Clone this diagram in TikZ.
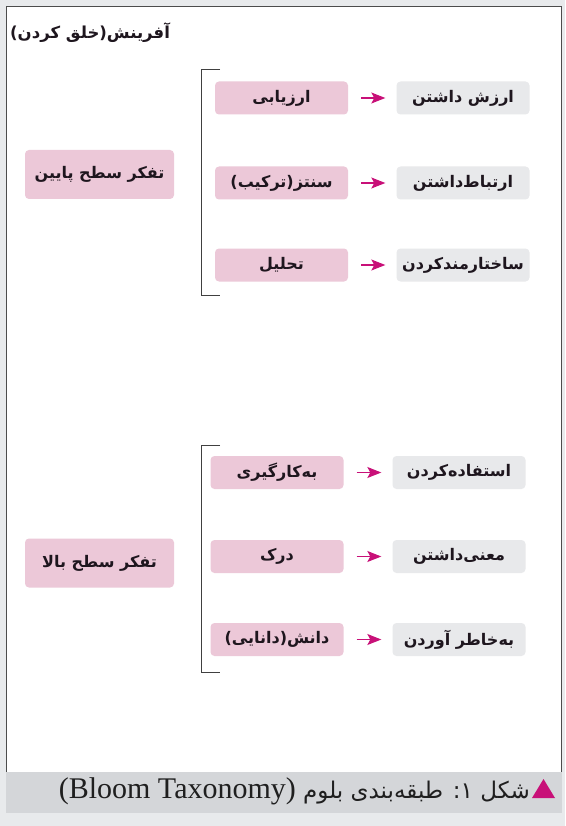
\documentclass[tikz,border=0pt]{standalone}
\usepackage{fontspec}
\usetikzlibrary{arrows.meta}
\TeXXeTstate=1
\newfontfamily\fafont[Script=Arabic]{DejaVu Sans}
\newfontfamily\enfont{Liberation Serif}
\definecolor{pinkbg}{RGB}{236,200,216}
\definecolor{greybg}{RGB}{232,233,235}
\definecolor{pagebg}{RGB}{232,234,236}
\definecolor{bandbg}{RGB}{212,214,217}
\definecolor{arrowmag}{RGB}{200,16,120}
\definecolor{textdark}{RGB}{30,22,30}
\newcommand{\fa}[1]{\beginR #1\endR}

\begin{document}
\begin{tikzpicture}[x=1pt, y=-1pt,
        verbbox/.style={fill=pinkbg, rounded corners=4pt, minimum width=133pt, minimum height=33pt, inner sep=0pt,
            text=textdark, font=\fafont\bfseries\fontsize{16}{18}\selectfont},
        skillbox/.style={verbbox, fill=greybg},
        levelbox/.style={verbbox, minimum width=149pt, minimum height=49pt},
        arr/.style={draw=arrowmag, line width=1.1pt, -{Stealth[length=14pt, width=11pt, inset=3pt]},
            shorten <=13pt, shorten >=11pt},
        brack/.style={draw=black!75, line width=0.9pt}
    ]
    \useasboundingbox (0,0) rectangle (565,826);
    \fill[pagebg] (0,0) rectangle (565,826);
    \filldraw[fill=white, draw=black!70, line width=0.8pt] (6.5,6.5) rectangle (561.5,772);
    \fill[bandbg] (6,772) rectangle (562,813);

    \node [anchor=west, inner sep=0pt, text=textdark, font=\fafont\bfseries\fontsize{16.5}{18}\selectfont] (Title) at (10,33) {\fa{آفرینش(خلق کردن)}};

    % low level
    \node [levelbox] (Low) at (99.5,174.5) {\fa{تفکر سطح پایین}};
    \node [verbbox] (Ev) at (281.5,98) {\fa{ارزیابی}};
    \node [verbbox] (Sy) at (281.5,183) {\fa{سنتز(ترکیب)}};
    \node [verbbox] (An) at (281.5,265) {\fa{تحلیل}};
    \node [skillbox] (Va) at (463,98) {\fa{ارزش داشتن}};
    \node [skillbox] (Re) at (463,183) {\fa{ارتباط‌داشتن}};
    \node [skillbox] (Or) at (463,265) {\fa{ساختارمندکردن}};

    % high level
    \node [levelbox] (High) at (99.5,563) {\fa{تفکر سطح بالا}};
    \node [verbbox] (Ap) at (277,472.5) {\fa{به‌کارگیری}};
    \node [verbbox] (Un) at (277,556.5) {\fa{درک}};
    \node [verbbox] (Kn) at (277,639.5) {\fa{دانش(دانایی)}};
    \node [skillbox] (Us) at (459,472.5) {\fa{استفاده‌کردن}};
    \node [skillbox] (Me) at (459,556.5) {\fa{معنی‌داشتن}};
    \node [skillbox] (Rc) at (459,639.5) {\fa{به‌خاطر آوردن}};

    \draw [arr] (Ev) -- (Va);
    \draw [arr] (Sy) -- (Re);
    \draw [arr] (An) -- (Or);
    \draw [arr] (Ap) -- (Us);
    \draw [arr] (Un) -- (Me);
    \draw [arr] (Kn) -- (Rc);

    \draw [brack] (220,69) -- (201,69) -- (201,295) -- (220,295);
    \draw [brack] (220,445) -- (201,445) -- (201,672) -- (220,672);

    % caption
    \fill [arrowmag] (532,798) -- (555,798) -- (543.5,779) -- cycle;
    \node [anchor=base east, inner sep=0pt, text=black!88] (Cap) at (530,798)
        {\fa{{\fafont\fontsize{23}{25}\selectfont شکل ۱: طبقه‌بندی بلوم }\beginL{\enfont\fontsize{30}{32}\selectfont(Bloom Taxonomy)}\endL}};

\end{tikzpicture}
\end{document}
